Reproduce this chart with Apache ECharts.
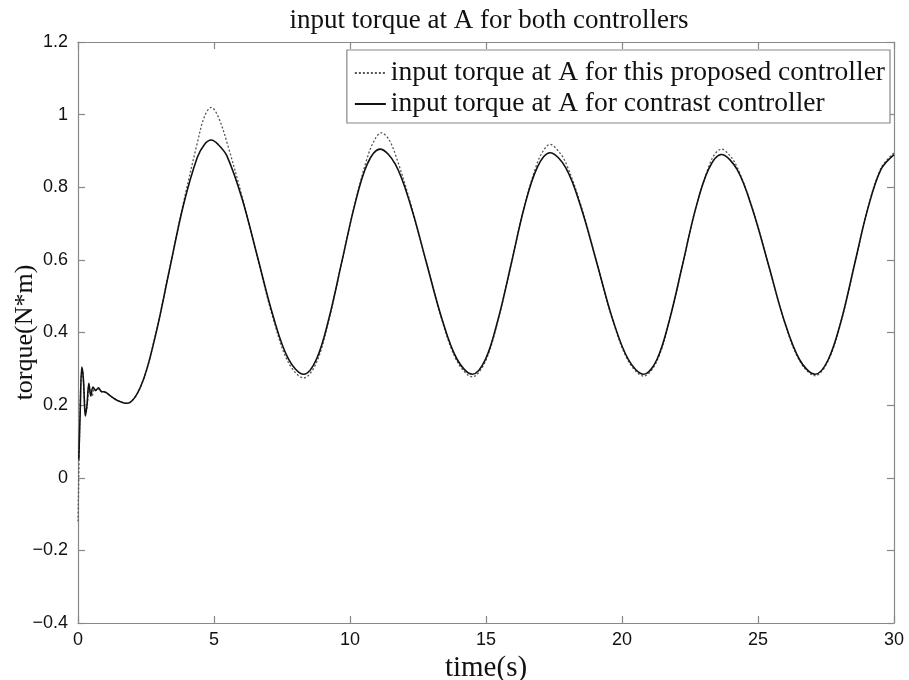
<!DOCTYPE html>
<html><head><meta charset="utf-8">
<script src="https://cdn.jsdelivr.net/npm/echarts@6/dist/echarts.min.js"></script>
<style>html,body{margin:0;padding:0;background:#fff}#c{width:909px;height:680px}</style>
</head><body><div id="c"></div>
<script>
// proposed controller (dashed)
const timeProposed = [0,0.04,0.08,0.12,0.16,0.22,0.28,0.34,0.4,0.46,0.52,0.6,0.7,0.8,0.9,1.0,1.2,1.45,1.8,2.32,2.83,3.35,3.87,4.38,4.65,4.9,5.15,5.47,6.03,6.6,7.17,7.73,8.3,8.77,9.23,9.7,10.17,10.63,10.9,11.15,11.4,11.67,12.23,12.8,13.37,13.93,14.5,14.98,15.45,15.93,16.4,16.88,17.12,17.35,17.6,17.93,18.5,19.08,19.65,20.23,20.8,21.28,21.75,22.23,22.7,23.18,23.4,23.65,23.9,24.23,24.8,25.38,25.95,26.53,27.1,27.58,28.07,28.55,29.03,29.52,30];
const torqueProposed = [-0.12,0.05,0.2,0.28,0.3,0.24,0.18,0.2,0.255,0.235,0.225,0.245,0.24,0.245,0.235,0.235,0.225,0.213,0.205,0.254,0.388,0.57,0.755,0.92,0.995,1.02,0.995,0.925,0.775,0.605,0.44,0.318,0.275,0.318,0.437,0.595,0.752,0.88,0.93,0.95,0.935,0.89,0.755,0.595,0.437,0.322,0.278,0.321,0.436,0.59,0.745,0.866,0.902,0.918,0.905,0.868,0.748,0.59,0.436,0.322,0.28,0.321,0.434,0.588,0.74,0.855,0.89,0.905,0.893,0.856,0.741,0.588,0.435,0.322,0.281,0.322,0.434,0.587,0.74,0.852,0.895];
// contrast controller (solid)
const timeContrast = [0.03,0.08,0.14,0.2,0.27,0.33,0.4,0.47,0.55,0.65,0.75,0.85,1.0,1.2,1.45,1.8,2.32,2.83,3.35,3.87,4.38,4.65,4.9,5.15,5.47,6.03,6.6,7.17,7.73,8.3,8.77,9.23,9.7,10.17,10.63,11.1,11.67,12.23,12.8,13.37,13.93,14.5,14.98,15.45,15.93,16.4,16.88,17.35,17.93,18.5,19.08,19.65,20.23,20.8,21.28,21.75,22.23,22.7,23.18,23.65,24.23,24.8,25.38,25.95,26.53,27.1,27.58,28.07,28.55,29.03,29.52,30];
const torqueContrast = [0.05,0.18,0.305,0.27,0.17,0.2,0.26,0.225,0.25,0.24,0.248,0.238,0.236,0.225,0.213,0.205,0.254,0.386,0.568,0.749,0.881,0.918,0.93,0.918,0.887,0.769,0.608,0.446,0.328,0.285,0.327,0.44,0.595,0.75,0.863,0.905,0.863,0.75,0.595,0.44,0.327,0.285,0.326,0.438,0.59,0.743,0.854,0.895,0.854,0.743,0.59,0.438,0.326,0.285,0.325,0.436,0.588,0.739,0.849,0.89,0.849,0.739,0.588,0.436,0.325,0.285,0.325,0.436,0.588,0.739,0.849,0.89];

const xTicks = {min:0, max:30, interval:5};
const yTicks = {min:-0.4, max:1.2, interval:0.2};
const nameProposed = 'input torque at A for this proposed controller';
const nameContrast = 'input torque at A for contrast controller';

const zip = (a,b)=>a.map((v,i)=>[v,b[i]]);
const serif = '"Liberation Serif","Times New Roman",serif';
const sans = '"Liberation Sans",Arial,sans-serif';
const axisLineStyle = {onZero:false,lineStyle:{color:'#888',width:1.2}};
const tick = {inside:true,length:7,lineStyle:{color:'#888',width:1.2}};

const chart = echarts.init(document.getElementById('c'));
chart.setOption({
  animation:false,
  backgroundColor:'#fff',
  title:{text:'input torque at A for both controllers',left:484,textAlign:'center',top:2,
    textStyle:{fontFamily:serif,fontSize:27,fontWeight:'normal',color:'#111'}},
  grid:{left:78,right:15,top:42,bottom:57,outerBoundsMode:'none'},
  legend:{orient:'vertical',right:19,top:50,itemWidth:31,itemHeight:10,itemGap:3,
    backgroundColor:'#fff',borderColor:'#888',borderWidth:1.2,borderRadius:0,padding:[9,5,5,7],
    itemStyle:{opacity:0},
    textStyle:{fontFamily:serif,fontSize:27.5,color:'#111'},
    data:[nameProposed,nameContrast]},
  xAxis:[
    {type:'value',min:xTicks.min,max:xTicks.max,interval:xTicks.interval,name:'time(s)',nameLocation:'middle',nameGap:31,
     nameMoveOverlap:false,
     nameTextStyle:{fontFamily:serif,fontSize:29,color:'#111'},
     axisLine:axisLineStyle,axisTick:tick,splitLine:{show:false},
     axisLabel:{fontFamily:sans,fontSize:18,color:'#111',margin:8}},
    {type:'value',position:'top',min:xTicks.min,max:xTicks.max,interval:xTicks.interval,
     axisLine:axisLineStyle,axisTick:tick,axisLabel:{show:false},splitLine:{show:false}}
  ],
  yAxis:[
    {type:'value',min:yTicks.min,max:yTicks.max,interval:yTicks.interval,name:'torque(N*m)',nameLocation:'middle',nameGap:40,
     nameMoveOverlap:false,
     nameTextStyle:{fontFamily:serif,fontSize:26,color:'#111'},
     axisLine:{show:true,...axisLineStyle},axisTick:tick,splitLine:{show:false},
     axisLabel:{fontFamily:sans,fontSize:18,color:'#111',margin:10,
       formatter:v=>String(Math.round(v*10)/10).replace('-','\u2212')}},
    {type:'value',position:'right',min:yTicks.min,max:yTicks.max,interval:yTicks.interval,
     axisLine:{show:true,...axisLineStyle},axisTick:tick,axisLabel:{show:false},splitLine:{show:false}}
  ],
  series:[
    {name:nameProposed,type:'line',data:zip(timeProposed,torqueProposed),smooth:0.35,symbol:'none',
     lineStyle:{color:'#555',width:1.3,type:[2,2]},itemStyle:{color:'#555'}},
    {name:nameContrast,type:'line',data:zip(timeContrast,torqueContrast),smooth:0.35,symbol:'none',
     lineStyle:{color:'#111',width:1.6},itemStyle:{color:'#111'}}
  ]
});
</script></body></html>
